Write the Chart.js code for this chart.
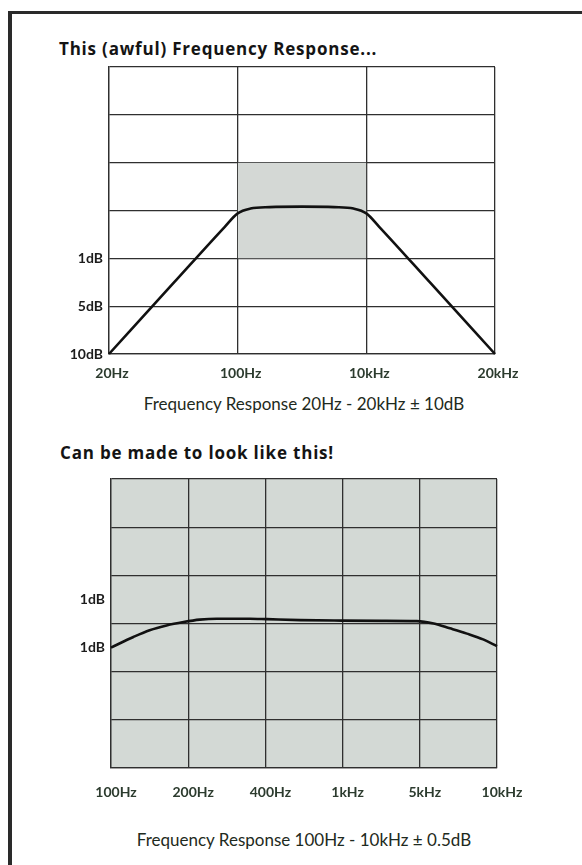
<!DOCTYPE html>
<html>
<head>
<meta charset="utf-8">
<script src="https://cdn.jsdelivr.net/npm/chart.js@4/dist/chart.umd.min.js"></script>
<style>
  html, body { margin: 0; padding: 0; background: #fff; width: 582px; height: 865px; overflow: hidden; }
  .frame { position: absolute; left: 8px; top: 11px; width: 600px; height: 900px;
           border-left: 4px solid #2a2a2a; border-top: 3px solid #2a2a2a; }
  .title { position: absolute; font-family: "Open Sans", Lato, sans-serif; font-weight: 700;
           font-size: 17px; line-height: 20px; letter-spacing: 0.8px; color: #141414; white-space: nowrap; }
  .caption { position: absolute; left: 104px; width: 400px; text-align: center;
             font-family: Lato, "Open Sans", sans-serif; font-weight: 400; font-size: 17px;
             line-height: 20px; color: #1e2a20; white-space: nowrap; }
  #c1wrap { position: absolute; left: 0; top: 0; width: 582px; height: 390px; }
  #c2wrap { position: absolute; left: 0; top: 420px; width: 582px; height: 390px; }
</style>
</head>
<body>
<div class="frame"></div>
<div class="title" id="t1" style="left:59px; top:39px;"></div>
<div id="c1wrap"><canvas id="c1"></canvas></div>
<div class="caption" id="cap1" style="top:394px;"></div>
<div class="title" id="t2" style="left:60px; top:443px;"></div>
<div id="c2wrap"><canvas id="c2"></canvas></div>
<div class="caption" id="cap2" style="top:830px;"></div>
<script>
// ---------- text ----------
const title1 = "This (awful) Frequency Response...";
const caption1 = "Frequency Response 20Hz - 20kHz \u00B1 10dB";
const title2 = "Can be made to look like this!";
const caption2 = "Frequency Response 100Hz - 10kHz \u00B1 0.5dB";

// ---------- chart 1 data (x: grid divisions along frequency, y: grid divisions of level) ----------
const top_xTickLabels = ["20Hz", "100Hz", "10kHz", "20kHz"];
const top_yTickLabels = ["10dB", "5dB", "1dB", "", "", "", ""];
const top_freqPos = [0, 0.5, 0.9, 1.0, 1.1, 1.25, 1.5, 1.75, 1.9, 2.0, 2.1, 2.5, 3];
const top_level   = [0, 1.48, 2.66, 2.94, 3.04, 3.07, 3.08, 3.07, 3.04, 2.94, 2.66, 1.48, 0];
const top_bandX = [1, 2];      // shaded window: 100Hz .. 10kHz
const top_bandY = [2, 4];      // shaded window: level range

// ---------- chart 2 data ----------
const bot_xTickLabels = ["100Hz", "200Hz", "400Hz", "1kHz", "5kHz", "10kHz"];
const bot_yTickLabelAt = { "2.5": "1dB", "3.5": "1dB" };
const bot_freqPos = [0, 0.29, 0.5, 0.72, 0.94, 1.15, 1.37, 1.8, 2.02, 2.45, 2.99, 3.5, 3.96, 4.18, 4.39, 4.61, 4.82, 5];
const bot_level   = [2.5, 2.72, 2.86, 2.96, 3.03, 3.08, 3.10, 3.10, 3.09, 3.07, 3.06, 3.055, 3.05, 3.0, 2.9, 2.79, 2.67, 2.53];

document.getElementById("t1").textContent = title1;
document.getElementById("cap1").textContent = caption1;
document.getElementById("t2").textContent = title2;
document.getElementById("cap2").textContent = caption2;

const gridCol = "#2f2f2f";
const labelCol = "#2c3b2e";
const tickFont = { family: "Lato, 'Open Sans', sans-serif", weight: "bold", size: 14 };

const plotBg = {
  id: "plotBg",
  beforeDraw(chart, args, opts) {
    if (!opts.color) return;
    const a = chart.chartArea, ctx = chart.ctx;
    ctx.save(); ctx.fillStyle = opts.color;
    ctx.fillRect(a.left, a.top, a.right - a.left, a.bottom - a.top);
    ctx.restore();
  }
};

// ---------- chart 1 ----------
new Chart(document.getElementById("c1"), {
  type: "line",
  data: {
    datasets: [
      {
        label: "window",
        data: top_bandX.map(x => ({ x, y: top_bandY[1] })),
        borderWidth: 0, pointRadius: 0,
        backgroundColor: "#d4d8d5",
        fill: { value: top_bandY[0] },
        order: 2
      },
      {
        label: "response",
        data: top_freqPos.map((x, i) => ({ x, y: top_level[i] })),
        borderColor: "#111", borderWidth: 2.6, pointRadius: 0,
        cubicInterpolationMode: "monotone", fill: false, clip: 4,
        order: 1
      }
    ]
  },
  options: {
    responsive: true, maintainAspectRatio: false, animation: false,
    layout: { padding: { left: 49, right: 87, top: 67, bottom: 6 } },
    plugins: { legend: { display: false }, tooltip: { enabled: false }, title: { display: false } },
    scales: {
      x: {
        type: "linear", min: 0, max: 3, z: 1,
        afterFit: s => { s.height = 30; },
        grid: { color: gridCol, lineWidth: 1.3, drawTicks: false },
        border: { color: gridCol, width: 1.3 },
        ticks: { stepSize: 1, padding: 11, labelOffset: 3, color: labelCol, font: tickFont,
                 callback: v => top_xTickLabels[v] ?? "" }
      },
      y: {
        type: "linear", min: 0, max: 6, z: 1,
        afterFit: s => { s.width = 60; },
        grid: { color: gridCol, lineWidth: 1.3, drawTicks: false },
        border: { color: gridCol, width: 1.3 },
        ticks: { stepSize: 1, padding: 6, color: "#1c1c1c", font: tickFont,
                 callback: v => top_yTickLabels[v] ?? "" }
      }
    }
  }
});

// ---------- chart 2 ----------
new Chart(document.getElementById("c2"), {
  type: "line",
  data: {
    datasets: [{
      label: "response",
      data: bot_freqPos.map((x, i) => ({ x, y: bot_level[i] })),
      borderColor: "#111", borderWidth: 2.6, pointRadius: 0,
      cubicInterpolationMode: "monotone", fill: false, clip: 4
    }]
  },
  plugins: [plotBg],
  options: {
    responsive: true, maintainAspectRatio: false, animation: false,
    layout: { padding: { left: 51, right: 85, top: 59, bottom: 12 } },
    plugins: { legend: { display: false }, tooltip: { enabled: false }, plotBg: { color: "#d3d9d5" } },
    scales: {
      x: {
        type: "linear", min: 0, max: 5,
        afterFit: s => { s.height = 30; },
        grid: { color: gridCol, lineWidth: 1.3, drawTicks: false },
        border: { color: gridCol, width: 1.3 },
        ticks: { stepSize: 1, padding: 16, labelOffset: 5, color: labelCol, font: tickFont,
                 callback: v => bot_xTickLabels[v] ?? "" }
      },
      y: {
        type: "linear", min: 0, max: 6,
        afterFit: s => { s.width = 60; },
        grid: { color: c => (Number.isInteger(c.tick.value) ? gridCol : "rgba(0,0,0,0)"),
                lineWidth: 1.3, drawTicks: false },
        border: { color: gridCol, width: 1.3 },
        ticks: { stepSize: 0.5, padding: 6, color: "#1c1c1c", font: tickFont,
                 callback: v => bot_yTickLabelAt[String(v)] ?? "" }
      }
    }
  }
});
</script>
</body>
</html>
